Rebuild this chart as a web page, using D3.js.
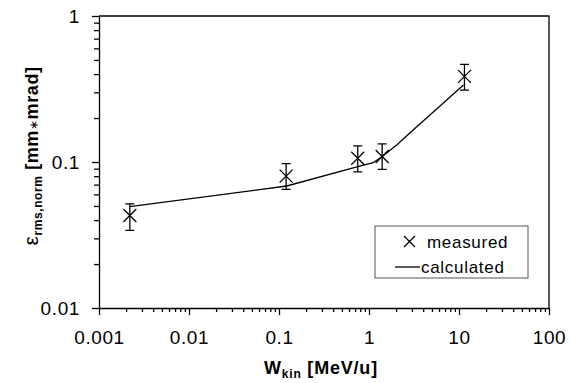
<!DOCTYPE html>
<html>
<head>
<meta charset="utf-8">
<script src="https://cdn.jsdelivr.net/npm/d3@7"></script>
<style>
  html, body { margin: 0; padding: 0; background: #fff; }
  svg { display: block; font-family: "Liberation Sans", Arial, sans-serif; }
</style>
</head>
<body>
<div id="chart"></div>
<script>
// measured points (energy in MeV/u, emittance in mm*mrad)
const measuredW = [0.0022, 0.12, 0.75, 1.4, 11.5];
const measuredEps = [0.043, 0.080, 0.106, 0.109, 0.386];
const errLow = [0.034, 0.065, 0.0855, 0.089, 0.311];
const errHigh = [0.0516, 0.0974, 0.129, 0.133, 0.467];

// calculated curve
const calcW = [0.0022, 0.122, 0.75, 1.11, 1.39, 2.03, 3.39, 4.76, 7.3, 11.2];
const calcEps = [0.0494, 0.0685, 0.0928, 0.0989, 0.1087, 0.1306, 0.1745, 0.210, 0.266, 0.337];

const xTicks = [0.001, 0.01, 0.1, 1, 10, 100];
const yTicks = [0.01, 0.1, 1];

const width = 575, height = 383;
const margin = {top: 16, right: 26, bottom: 75, left: 99};
const font = '"Liberation Sans", Arial, sans-serif';

const svg = d3.select('#chart').append('svg')
  .attr('width', width)
  .attr('height', height);

const x = d3.scaleLog().domain([0.001, 100]).range([margin.left, width - margin.right]);
const y = d3.scaleLog().domain([0.01, 1]).range([height - margin.bottom, margin.top]);

// minor ticks: 2..9 of every decade
const minor = (lo, hi) => {
  const out = [];
  for (let e = Math.log10(lo); e < Math.log10(hi); e++) {
    for (let k = 2; k <= 9; k++) out.push(k * Math.pow(10, e));
  }
  return out;
};

const fmt = (d) => String(+d.toPrecision(3));
const styleLabels = (g) => g.selectAll('text')
  .attr('font-size', 19).attr('letter-spacing', 0.6)
  .attr('fill', '#000').attr('font-family', font);

// x axis
svg.append('g')
  .attr('transform', `translate(0,${y(0.01)})`)
  .call(d3.axisBottom(x).tickValues(minor(0.001, 100)).tickSize(4).tickFormat(''))
  .call((g) => g.select('.domain').remove());
svg.append('g')
  .attr('transform', `translate(0,${y(0.01)})`)
  .call(d3.axisBottom(x).tickValues(xTicks).tickSize(7).tickSizeOuter(0).tickPadding(16).tickFormat(fmt))
  .call(styleLabels);

// y axis
svg.append('g')
  .attr('transform', `translate(${x(0.001)},0)`)
  .call(d3.axisLeft(y).tickValues(minor(0.01, 1)).tickSize(5).tickFormat(''))
  .call((g) => g.select('.domain').remove());
svg.append('g')
  .attr('transform', `translate(${x(0.001)},0)`)
  .call(d3.axisLeft(y).tickValues(yTicks).tickSize(7).tickSizeOuter(0).tickPadding(12).tickFormat(fmt))
  .call(styleLabels);

svg.selectAll('.tick line, .domain').attr('stroke', '#000').attr('stroke-width', 1.3);

// frame on top and right
svg.append('path')
  .attr('d', `M${x(0.001)},${y(1)}H${x(100)}V${y(0.01)}`)
  .attr('fill', 'none')
  .attr('stroke', '#000')
  .attr('stroke-width', 1.3);

// calculated line
const line = d3.line().x((d) => x(d[0])).y((d) => y(d[1]));
svg.append('path')
  .datum(d3.zip(calcW, calcEps))
  .attr('d', line)
  .attr('fill', 'none')
  .attr('stroke', '#000')
  .attr('stroke-width', 1.3);

// measured points with error bars
const pts = measuredW.map((w, i) => ({w, e: measuredEps[i], lo: errLow[i], hi: errHigh[i]}));
const capW = 4.5, mk = 6.5;
const pg = svg.append('g').attr('stroke', '#000').attr('stroke-width', 1.3).attr('fill', 'none');
pts.forEach((d) => {
  const cx = x(d.w), cy = y(d.e);
  pg.append('path').attr('d',
    `M${cx},${y(d.lo)}V${y(d.hi)}` +
    `M${cx - capW},${y(d.lo)}H${cx + capW}` +
    `M${cx - capW},${y(d.hi)}H${cx + capW}`);
  pg.append('path').attr('d',
    `M${cx - mk},${cy - mk}L${cx + mk},${cy + mk}M${cx - mk},${cy + mk}L${cx + mk},${cy - mk}`);
});

// legend
const lg = svg.append('g').attr('transform', 'translate(375,226)');
lg.append('rect').attr('width', 153).attr('height', 52)
  .attr('fill', '#fff').attr('stroke', '#555').attr('stroke-width', 1);
lg.append('path')
  .attr('d', 'M29,10L40,21M29,21L40,10')
  .attr('stroke', '#000').attr('stroke-width', 1.3);
lg.append('text').attr('x', 52).attr('y', 22).attr('font-size', 17)
  .attr('letter-spacing', 0.7).text('measured');
lg.append('path').attr('d', 'M20,41H45').attr('stroke', '#000').attr('stroke-width', 1.3);
lg.append('text').attr('x', 46).attr('y', 47).attr('font-size', 17)
  .attr('letter-spacing', 0.7).text('calculated');

// axis titles
const xt = svg.append('text')
  .attr('x', (x(0.001) + x(100)) / 2 - 3)
  .attr('y', 374)
  .attr('text-anchor', 'middle')
  .attr('font-weight', 'bold')
  .attr('letter-spacing', 0.8)
  .attr('font-size', 18);
xt.append('tspan').text('W');
xt.append('tspan').attr('font-size', 12).attr('dy', 4).text('kin');
xt.append('tspan').attr('dy', -4).text(' [MeV/u]');

const yt = svg.append('text')
  .attr('transform', `translate(38,${(y(1) + y(0.01)) / 2 - 6}) rotate(-90)`)
  .attr('text-anchor', 'middle')
  .attr('font-weight', 'bold')
  .attr('letter-spacing', 0.6)
  .attr('font-size', 18);
yt.append('tspan').attr('font-weight', 'normal').attr('font-size', 21).text('ε');
yt.append('tspan').attr('font-size', 12).attr('dy', 4).text('rms,norm');
yt.append('tspan').attr('dy', -4).text(' [mm');
yt.append('tspan').attr('font-weight', 'normal').attr('font-size', 12).text('∗');
yt.append('tspan').text('mrad]');
</script>
</body>
</html>
